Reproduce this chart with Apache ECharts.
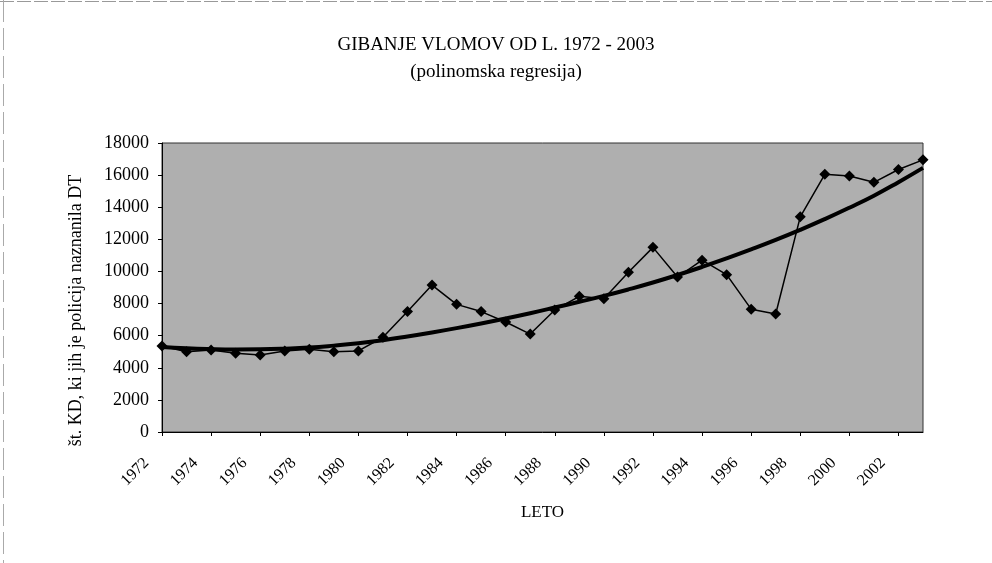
<!DOCTYPE html>
<html>
<head>
    <meta charset="utf-8">
    <title>Gibanje vlomov od l. 1972 - 2003</title>
    <script src="https://cdn.jsdelivr.net/npm/echarts@6.0.0/dist/echarts.min.js"></script>
    <style>
        body {
            margin: 0;
            padding: 0;
            background-color: #fff;
        }

        #chart {
            width: 992px;
            height: 563px;
        }
    </style>
</head>
<body>
    <div id="chart"></div>

    <script>
        // years 1972 - 2003
        var years = ['1972', '1973', '1974', '1975', '1976', '1977', '1978', '1979', '1980', '1981',
                     '1982', '1983', '1984', '1985', '1986', '1987', '1988', '1989', '1990', '1991',
                     '1992', '1993', '1994', '1995', '1996', '1997', '1998', '1999', '2000', '2001',
                     '2002', '2003'];

        // reported burglaries
        var burglaries = [5350, 5000, 5100, 4900, 4800, 5050, 5150, 5000, 5050, 5900,
                          7500, 9150, 7950, 7500, 6850, 6100, 7600, 8450, 8300, 9950,
                          11500, 9650, 10700, 9800, 7650, 7350, 13400, 16050, 15950, 15550,
                          16350, 16950];

        // polynomial trend line
        var trend = [5300, 5210, 5160, 5140, 5150, 5190, 5260, 5380, 5530, 5720,
                     5950, 6200, 6470, 6760, 7070, 7400, 7750, 8110, 8480, 8880,
                     9310, 9780, 10280, 10810, 11370, 11960, 12590, 13260, 13970, 14720,
                     15560, 16450];

        var serif = 'Liberation Serif';

        var chart = echarts.init(document.getElementById('chart'));

        var option = {
            animation: false,
            // faint edges of the scanned page
            graphic: [
                {
                    type: 'line',
                    shape: { x1: 0, y1: 1.5, x2: 992, y2: 1.5 },
                    style: { stroke: '#999', lineWidth: 1, lineDash: [14, 3] }
                },
                {
                    type: 'line',
                    shape: { x1: 3.5, y1: 0, x2: 3.5, y2: 563 },
                    style: { stroke: '#aaa', lineWidth: 1, lineDash: [22, 6] }
                }
            ],
            title: {
                text: 'GIBANJE VLOMOV OD L. 1972 - 2003',
                subtext: '(polinomska regresija)',
                left: 'center',
                top: 31,
                itemGap: 8,
                textStyle: {
                    fontFamily: serif,
                    fontSize: 19,
                    fontWeight: 'normal',
                    color: '#000'
                },
                subtextStyle: {
                    fontFamily: serif,
                    fontSize: 19,
                    color: '#000'
                }
            },
            grid: {
                left: 162,
                right: 69,
                top: 143,
                bottom: 131,
                show: true,
                backgroundColor: '#afafaf',
                borderColor: '#333',
                borderWidth: 1
            },
            xAxis: {
                type: 'category',
                data: years,
                boundaryGap: false,
                name: 'LETO',
                nameLocation: 'middle',
                nameGap: 72,
                nameTextStyle: {
                    fontFamily: serif,
                    fontSize: 17,
                    color: '#000'
                },
                axisLine: {
                    lineStyle: { color: '#000', width: 1 }
                },
                axisTick: {
                    interval: 1,
                    length: 4,
                    lineStyle: { color: '#000' }
                },
                axisLabel: {
                    interval: 1,
                    rotate: 45,
                    margin: 13,
                    padding: [0, 22, 0, 0],
                    fontFamily: serif,
                    fontSize: 16,
                    color: '#000'
                },
                splitLine: { show: false }
            },
            yAxis: {
                type: 'value',
                min: 0,
                max: 18000,
                interval: 2000,
                name: 'št. KD, ki jih je policija naznanila DT',
                nameLocation: 'middle',
                nameGap: 77,
                nameTextStyle: {
                    fontFamily: serif,
                    fontSize: 18,
                    color: '#000',
                    padding: [0, 46, 0, 0]
                },
                axisLine: {
                    show: true,
                    lineStyle: { color: '#000', width: 1 }
                },
                axisTick: {
                    show: true,
                    length: 4,
                    lineStyle: { color: '#000' }
                },
                axisLabel: {
                    margin: 13,
                    fontFamily: serif,
                    fontSize: 18,
                    color: '#000',
                    formatter: function (v) { return String(v); }
                },
                splitLine: { show: false }
            },
            series: [
                {
                    name: 'trend',
                    type: 'line',
                    data: trend,
                    smooth: true,
                    symbol: 'none',
                    lineStyle: { color: '#000', width: 4 },
                    z: 2
                },
                {
                    name: 'vlomi',
                    type: 'line',
                    data: burglaries,
                    symbol: 'diamond',
                    symbolSize: 11,
                    itemStyle: { color: '#000' },
                    lineStyle: { color: '#000', width: 1.5 },
                    z: 3
                }
            ]
        };

        chart.setOption(option);
    </script>
</body>
</html>
